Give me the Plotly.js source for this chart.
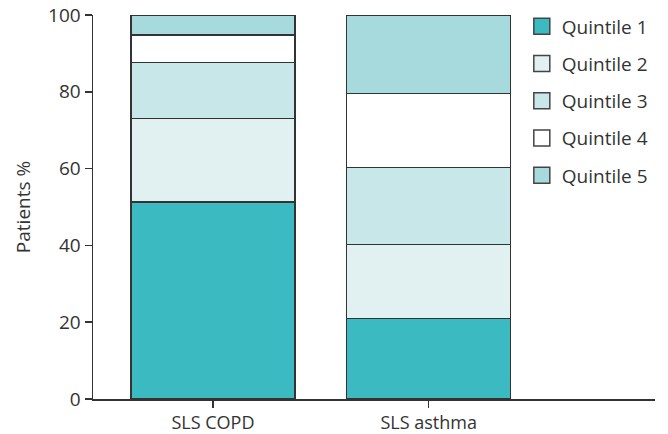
<!DOCTYPE html>
<html>
<head>
<meta charset="utf-8">
<script src="https://cdn.plot.ly/plotly-3.0.1.min.js"></script>
<style>html,body{margin:0;padding:0;background:#fff;}#chart{width:668px;height:434px;}</style>
</head>
<body>
<div id="chart"></div>
<script>
var categories = ["SLS COPD", "SLS asthma"];
var seriesNames = ["Quintile 1", "Quintile 2", "Quintile 3", "Quintile 4", "Quintile 5"];
var quintile1 = [51.3, 20.9];
var quintile2 = [21.8, 19.3];
var quintile3 = [14.5, 20.1];
var quintile4 = [7.2, 19.3];
var quintile5 = [5.2, 20.4];
var yTicks = [0, 20, 40, 60, 80, 100];

var seriesValues = [quintile1, quintile2, quintile3, quintile4, quintile5];
var colors = ["#3bbbc1", "#e1f1f1", "#c8e7e8", "#ffffff", "#a7dadc"];

var traces = seriesValues.map(function (vals, i) {
  return {
    type: "bar",
    name: seriesNames[i],
    x: categories,
    y: vals,
    width: 0.76,
    showlegend: false,
    marker: { color: colors[i], line: { color: "#333333", width: 1.5 } },
    hoverinfo: "x+y+name"
  };
});
// legend entries (square swatches like the reference)
seriesNames.forEach(function (nm, i) {
  traces.push({
    type: "scatter",
    mode: "markers",
    name: nm,
    x: [null],
    y: [null],
    legendgroup: "g" + i,
    showlegend: true,
    marker: { symbol: "square", size: 18, color: colors[i], line: { color: "#444444", width: 1.5 } },
    hoverinfo: "skip"
  });
});

var font = { family: "'Open Sans', Roboto, sans-serif", size: 19, color: "#333333" };
var xFont = { family: "'Open Sans', Roboto, sans-serif", size: 18, color: "#333333" };

var layout = {
  width: 668,
  height: 434,
  margin: { l: 93, r: 13, t: 15, b: 35, autoexpand: false },
  paper_bgcolor: "#ffffff",
  plot_bgcolor: "#ffffff",
  barmode: "stack",
  font: font,
  showlegend: true,
  legend: {
    x: 0.763, y: 1.0195, xanchor: "left", yanchor: "top",
    traceorder: "grouped",
    tracegroupgap: 9.5,
    font: font,
    bgcolor: "rgba(0,0,0,0)"
  },
  xaxis: {
    type: "category",
    range: [-0.556, 2.049],
    showline: true, linecolor: "#333333", linewidth: 1.5,
    ticks: "outside", ticklen: 7, tickcolor: "#333333", tickwidth: 1.5,
    showgrid: false, zeroline: false,
    tickfont: xFont
  },
  yaxis: {
    range: [0, 100],
    tickvals: yTicks,
    showline: true, linecolor: "#333333", linewidth: 1.5,
    ticks: "outside", ticklen: 7, tickcolor: "#333333", tickwidth: 1.5,
    showgrid: false, zeroline: false,
    tickfont: font,
    title: { text: "Patients %", font: font, standoff: 12 }
  }
};

Plotly.newPlot("chart", traces, layout, { displayModeBar: false, staticPlot: true });
</script>
</body>
</html>
